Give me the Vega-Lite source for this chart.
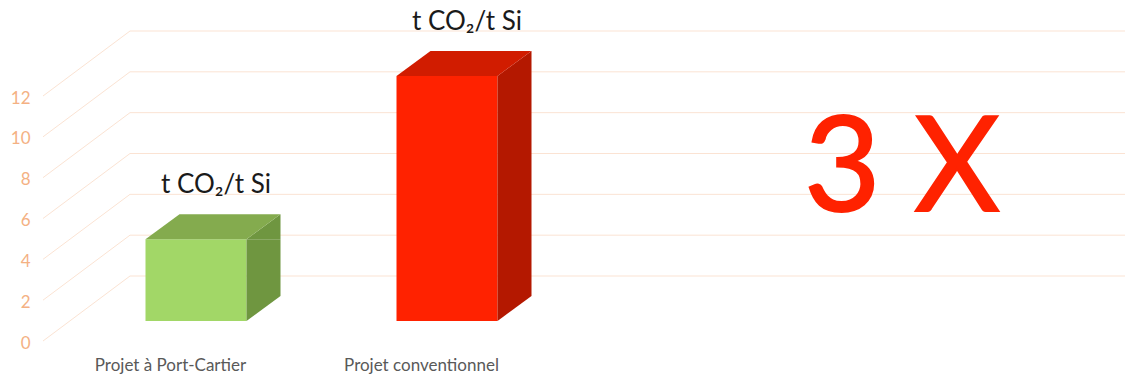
{
  "$schema": "https://vega.github.io/schema/vega-lite/v6.json",
  "autosize": {"type": "none"},
  "padding": {"left": 130, "top": 31, "right": 0, "bottom": 100},
  "width": 995,
  "height": 245,
  "background": "#ffffff",
  "config": {
    "view": {"stroke": null},
    "font": "Lato",
    "axisY": {
      "domain": false, "ticks": false, "tickSize": 0,
      "labelPadding": 100, "labelOffset": 67,
      "labelColor": "#F4B183", "labelFont": "Lato", "labelFontSize": 17,
      "grid": false, "title": null
    },
    "axisX": {
      "domain": false, "ticks": false, "tickSize": 0, "grid": false,
      "labelPadding": 94, "labelBaseline": "alphabetic",
      "labelColor": "#595959", "labelFont": "Lato", "labelFontSize": 17, "title": null
    }
  },
  "datasets": {
    "bars": [
      {"projet": "Projet à Port-Cartier", "valeur": 4, "unite": "t CO₂/t Si"},
      {"projet": "Projet conventionnel", "valeur": 12, "unite": "t CO₂/t Si"}
    ],
    "ticks": [{"v": 0}, {"v": 2}, {"v": 4}, {"v": 6}, {"v": 8}, {"v": 10}, {"v": 12}],
    "note": [{"texte": "3 X"}]
  },
  "resolve": {"scale": {"x": "independent"}, "axis": {"x": "independent"}},
  "layer": [
    {
      "data": {"name": "ticks"},
      "mark": {"type": "rule", "color": "#FBE3D3", "strokeWidth": 1},
      "encoding": {
        "y": {"field": "v", "type": "quantitative", "scale": {"domain": [0, 12], "nice": false, "zero": true},
              "axis": {"values": [0, 2, 4, 6, 8, 10, 12]}}
      }
    },
    {
      "data": {"name": "ticks"},
      "mark": {"type": "rule", "color": "#FBE3D3", "strokeWidth": 1, "y2Offset": 65},
      "encoding": {
        "x": {"datum": 0, "type": "quantitative", "scale": {"domain": [0, 1], "range": [0, -87]}, "axis": null},
        "x2": {"datum": 1},
        "y": {"field": "v", "type": "quantitative"},
        "y2": {"field": "v"}
      }
    },
    {
      "data": {"name": "bars"},
      "encoding": {
        "x": {"field": "projet", "type": "nominal",
              "scale": {"type": "point", "domain": ["Projet à Port-Cartier", "Projet conventionnel"], "range": [40, 291], "padding": 0},
              "axis": {"labelAngle": 0}}
      },
      "layer": [
        {
          "mark": {"type": "bar", "width": 101, "xOffset": 26, "yOffset": 45, "y2Offset": 45},
          "encoding": {
            "y": {"field": "valeur", "type": "quantitative", "scale": {"domain": [0, 12], "nice": false}},
            "y2": {"datum": 0},
            "fill": {"condition": {"test": "datum.projet === 'Projet à Port-Cartier'", "value": "#A2D767"}, "value": "#FF2200"}
          }
        },
        {
          "mark": {"type": "bar", "width": 34, "xOffset": 93.5, "yOffset": 45, "y2Offset": 20},
          "encoding": {
            "y": {"field": "valeur", "type": "quantitative"},
            "y2": {"datum": 0},
            "fill": {"condition": {"test": "datum.projet === 'Projet à Port-Cartier'", "value": "#6F9640"}, "value": "#B41800"}
          }
        },
        {
          "mark": {"type": "point", "shape": "M76.5,45L110.5,20L110.5,45Z", "size": 4, "filled": true, "opacity": 1},
          "encoding": {
            "y": {"field": "valeur", "type": "quantitative"},
            "fill": {"condition": {"test": "datum.projet === 'Projet à Port-Cartier'", "value": "#6F9640"}, "value": "#B41800"}
          }
        },
        {
          "mark": {"type": "point", "shape": "M76.5,20L110.5,20L76.5,45Z", "size": 4, "filled": true, "opacity": 1},
          "encoding": {
            "y": {"datum": 0, "type": "quantitative"},
            "fill": {"condition": {"test": "datum.projet === 'Projet à Port-Cartier'", "value": "#6F9640"}, "value": "#B41800"}
          }
        },
        {
          "mark": {"type": "point", "shape": "M-24.5,45L76.5,45L110.5,20L9.5,20Z", "size": 4, "filled": true, "opacity": 1},
          "encoding": {
            "y": {"field": "valeur", "type": "quantitative"},
            "fill": {"condition": {"test": "datum.projet === 'Projet à Port-Cartier'", "value": "#84AB4E"}, "value": "#D11C00"}
          }
        },
        {
          "mark": {"type": "text", "dx": 46, "dy": -1, "align": "center", "baseline": "alphabetic", "fontSize": 26, "font": "Lato", "color": "#1A1A1A"},
          "encoding": {
            "y": {"field": "valeur", "type": "quantitative"},
            "text": {"field": "unite"}
          }
        },
        {
          "data": {"name": "note"},
          "mark": {"type": "text", "dx": 481, "align": "center", "baseline": "alphabetic", "fontSize": 132, "font": "Lato", "color": "#FF2200", "stroke": "#FF2200", "strokeWidth": 2},
          "encoding": {
            "x": {"datum": "Projet conventionnel"},
            "y": {"datum": 3.2, "type": "quantitative"},
            "text": {"field": "texte"}
          }
        }
      ]
    }
  ]
}
